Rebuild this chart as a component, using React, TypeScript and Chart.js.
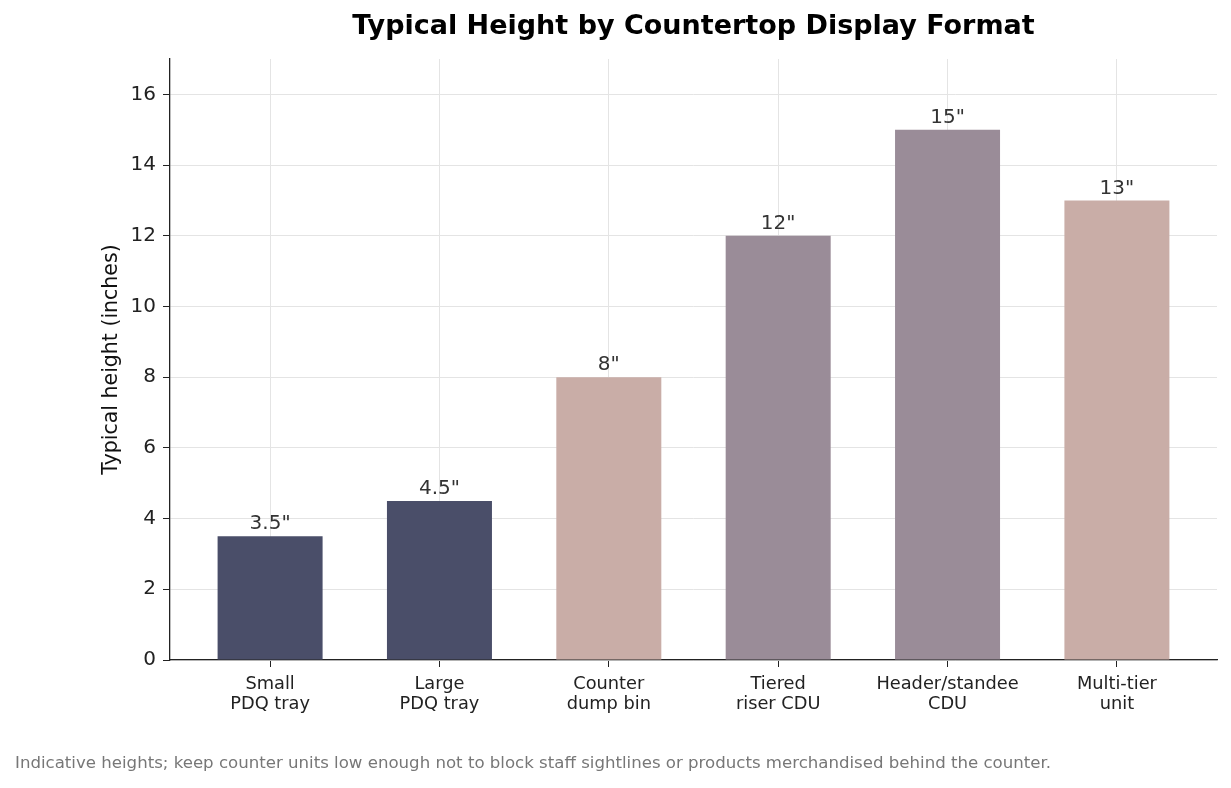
import { useEffect, useRef } from "react";
import { Chart, registerables } from "chart.js";

Chart.register(...registerables);

// data
const categories = [
  ["Small", "PDQ tray"],
  ["Large", "PDQ tray"],
  ["Counter", "dump bin"],
  ["Tiered", "riser CDU"],
  ["Header/standee", "CDU"],
  ["Multi-tier", "unit"],
];
const heights = [3.5, 4.5, 8, 12, 15, 13];
const valueLabels = ['3.5"', '4.5"', '8"', '12"', '15"', '13"'];
const barColors = ["#4a4e69", "#4a4e69", "#c9ada7", "#9a8c98", "#9a8c98", "#c9ada7"];
const yTicks = [0, 2, 4, 6, 8, 10, 12, 14, 16];

const FONT = "'DejaVu Sans', Verdana, sans-serif";
const footnote =
  "Indicative heights; keep counter units low enough not to block staff sightlines or products merchandised behind the counter.";

// writes the value above each bar
const barValuePlugin = {
  id: "barValues",
  afterDatasetsDraw(chart: any) {
    const ctx = chart.ctx;
    const meta = chart.getDatasetMeta(0);
    ctx.save();
    ctx.font = `20px ${FONT}`;
    ctx.fillStyle = "#333333";
    ctx.textAlign = "center";
    ctx.textBaseline = "bottom";
    meta.data.forEach((bar: any, i: number) => {
      ctx.fillText(valueLabels[i], bar.x, bar.y - 2);
    });
    ctx.restore();
  },
};

// grey note at the bottom left
const footnotePlugin = {
  id: "footnote",
  afterDraw(chart: any) {
    const ctx = chart.ctx;
    ctx.save();
    ctx.font = `16.6px ${FONT}`;
    ctx.fillStyle = "#777777";
    ctx.textAlign = "left";
    ctx.textBaseline = "middle";
    ctx.fillText(footnote, 15, 764);
    ctx.restore();
  },
};

export default function App() {
  const canvasRef = useRef<HTMLCanvasElement | null>(null);

  useEffect(() => {
    document.body.style.margin = "0";
    if (!canvasRef.current) return;
    const ctx = canvasRef.current.getContext("2d");
    if (!ctx) return;

    const chart = new Chart(ctx, {
      type: "bar",
      data: {
        datasets: [
          {
            data: heights.map((h, i) => ({ x: i, y: h })),
            backgroundColor: barColors,
            barPercentage: 0.62,
            categoryPercentage: 1,
            borderWidth: 0,
          },
        ],
      },
      options: {
        responsive: true,
        maintainAspectRatio: false,
        animation: false,
        layout: { padding: { left: 0, right: 14, top: 0, bottom: 0 } },
        plugins: {
          legend: { display: false },
          tooltip: { enabled: false },
          title: {
            display: true,
            text: "Typical Height by Countertop Display Format",
            fullSize: false,
            color: "#000000",
            font: { family: FONT, size: 27, weight: "bold", lineHeight: 1.2 },
            padding: { top: 11, bottom: 15.6 },
          },
        },
        scales: {
          x: {
            type: "linear",
            min: -0.591,
            max: 5.591,
            offset: false,
            afterBuildTicks: (scale: any) => {
              scale.ticks = categories.map((_, i) => ({ value: i }));
            },
            afterFit: (scale: any) => {
              scale.height = 128;
            },
            ticks: {
              callback: (value: any) => categories[value] ?? "",
              color: "#222222",
              font: { family: FONT, size: 17.8, lineHeight: 1.15 },
              padding: 7,
              maxRotation: 0,
              autoSkip: false,
            },
            grid: {
              offset: false,
              color: "#e4e4e4",
              tickColor: "#222222",
              tickLength: 7,
              lineWidth: 1,
            },
            border: { display: true, color: "#222222", width: 1.3 },
          },
          y: {
            min: 0,
            max: 17,
            afterBuildTicks: (scale: any) => {
              scale.ticks = yTicks.map((v) => ({ value: v }));
            },
            afterFit: (scale: any) => {
              scale.width = 170;
            },
            ticks: {
              color: "#222222",
              font: { family: FONT, size: 20 },
              padding: 7,
            },
            grid: {
              color: "#e4e4e4",
              tickColor: "#222222",
              tickLength: 7,
              lineWidth: 1,
            },
            border: { display: true, color: "#222222", width: 1.3 },
            title: {
              display: true,
              text: "Typical height (inches)",
              color: "#111111",
              font: { family: FONT, size: 20.5, lineHeight: 1.2 },
              padding: { top: 99, bottom: 0 },
            },
          },
        },
      },
      plugins: [barValuePlugin, footnotePlugin],
    });

    return () => {
      chart.destroy();
    };
  }, []);

  return (
    <div style={{ width: "1231px", height: "788px", position: "relative", background: "#ffffff" }}>
      <canvas ref={canvasRef}></canvas>
    </div>
  );
}
